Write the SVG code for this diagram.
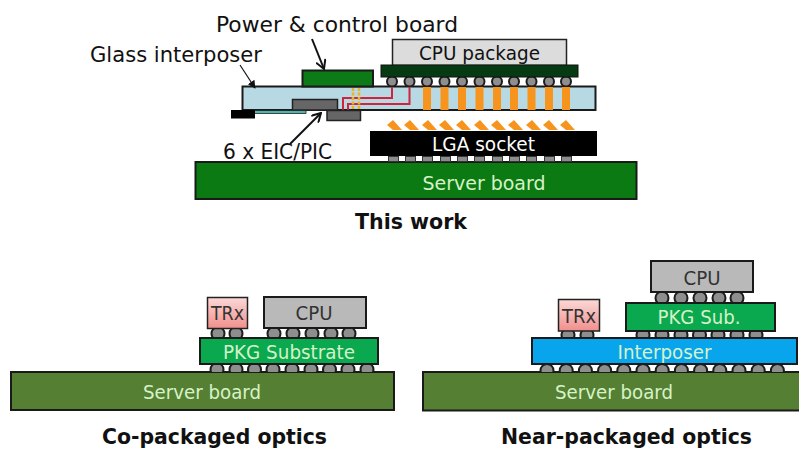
<svg xmlns="http://www.w3.org/2000/svg" width="799" height="449" viewBox="0 0 799 449">
<defs>
<linearGradient id="trx" x1="0" y1="0" x2="0" y2="1"><stop offset="0" stop-color="#fbd9d7"/><stop offset="1" stop-color="#f08f8c"/></linearGradient>
<marker id="arr" viewBox="0 0 10 10" refX="9" refY="5" markerWidth="11" markerHeight="11" markerUnits="userSpaceOnUse" orient="auto"><path d="M1 0.5L9 5L1 9.500" fill="none" stroke="#111" stroke-width="1.800"/></marker>
<marker id="arrs" viewBox="0 0 10 10" refX="9" refY="5" markerWidth="8" markerHeight="8" markerUnits="userSpaceOnUse" orient="auto"><path d="M0 0L10 5L0 10Z" fill="#111"/></marker>
<clipPath id="c1"><rect x="380" y="77" width="200" height="10"/></clipPath>
<clipPath id="c2"><rect x="205" y="328" width="170" height="10"/></clipPath>
<clipPath id="c3"><rect x="205" y="364" width="170" height="8"/></clipPath>
<clipPath id="c4"><rect x="555" y="292" width="210" height="11"/></clipPath>
<clipPath id="c5"><rect x="555" y="331" width="210" height="7"/></clipPath>
<clipPath id="c6"><rect x="535" y="364" width="255" height="8"/></clipPath>
</defs>
<style>
text{font-family:"DejaVu Sans","Liberation Sans",sans-serif}
.k{stroke:#1a1a1a;stroke-width:2}
.b{fill:#8e8e8e;stroke:#1c1c1c;stroke-width:2}
.t{font-size:22px;fill:#111}
.h{font-size:21px;font-weight:bold;fill:#111}
.l{font-size:20px;fill:#d6f2c8;text-anchor:middle}
.g{font-size:20px;fill:#333;text-anchor:middle}
.o{fill:#f7941d}
.r{fill:none;stroke:#d2233c;stroke-width:2}
</style>
<rect width="799" height="449" fill="#fff"/>

<g id="top-server-board"><rect class="k" x="195.500" y="162" width="441" height="37" fill="#0b7a12"/><text class="l" x="484" y="190" textLength="123" lengthAdjust="spacingAndGlyphs">Server board</text></g>
<g id="top-lga-pads" fill="#8c8c8c" stroke="#333" stroke-width="1"><rect x="388.500" y="156.500" width="10" height="5"/><rect x="405.500" y="156.500" width="10" height="5"/><rect x="422.500" y="156.500" width="10" height="5"/><rect x="440.500" y="156.500" width="10" height="5"/><rect x="457.500" y="156.500" width="10" height="5"/><rect x="474.500" y="156.500" width="10" height="5"/><rect x="492.500" y="156.500" width="10" height="5"/><rect x="509.500" y="156.500" width="10" height="5"/><rect x="526.500" y="156.500" width="10" height="5"/><rect x="544.500" y="156.500" width="10" height="5"/><rect x="561.500" y="156.500" width="10" height="5"/></g>
<g id="lga-socket"><rect x="370" y="131" width="227" height="25" fill="#000"/><text x="483.500" y="151" font-size="20" fill="#fff" text-anchor="middle" textLength="103" lengthAdjust="spacingAndGlyphs">LGA socket</text></g>
<g id="lga-contacts" class="o"><path d="M387 125L393 120L402 130H393Z"/><path d="M404 125L410 120L419 130H410Z"/><path d="M422 125L428 120L437 130H428Z"/><path d="M439 125L445 120L454 130H445Z"/><path d="M456 125L462 120L471 130H462Z"/><path d="M474 125L480 120L489 130H480Z"/><path d="M491 125L497 120L506 130H497Z"/><path d="M508 125L514 120L523 130H514Z"/><path d="M526 125L532 120L541 130H532Z"/><path d="M543 125L549 120L558 130H549Z"/><path d="M560 125L566 120L575 130H566Z"/></g>

<g id="glass-interposer"><rect class="k" x="242.500" y="86.500" width="353" height="23.500" fill="#b7d9e4"/></g>
<g id="via-bars" class="o"><rect x="423" y="87" width="8" height="23"/><rect x="440.500" y="87" width="8" height="23"/><rect x="458" y="87" width="8" height="23"/><rect x="475.500" y="87" width="8" height="23"/><rect x="493" y="87" width="8" height="23"/><rect x="510" y="87" width="8" height="23"/><rect x="527.500" y="87" width="8" height="23"/><rect x="545" y="87" width="8" height="23"/><rect x="562" y="87" width="8" height="23"/></g>
<g id="power-board"><rect class="k" x="302.500" y="70.500" width="70.500" height="16" fill="#0c7a16"/></g>
<g id="cpu-balls" clip-path="url(#c1)"><circle class="b" cx="392" cy="81.500" r="5"/><circle class="b" cx="409.500" cy="81.500" r="5"/><circle class="b" cx="427" cy="81.500" r="5"/><circle class="b" cx="444.500" cy="81.500" r="5"/><circle class="b" cx="462" cy="81.500" r="5"/><circle class="b" cx="479.500" cy="81.500" r="5"/><circle class="b" cx="497" cy="81.500" r="5"/><circle class="b" cx="514" cy="81.500" r="5"/><circle class="b" cx="531.500" cy="81.500" r="5"/><circle class="b" cx="549" cy="81.500" r="5"/><circle class="b" cx="566" cy="81.500" r="5"/></g>
<g id="cpu-package"><rect x="392.500" y="39.500" width="174" height="26" fill="#dcdcdc" stroke="#222" stroke-width="1.500"/><text x="479.500" y="60" font-size="20" fill="#111" text-anchor="middle" textLength="121" lengthAdjust="spacingAndGlyphs">CPU package</text></g>
<g id="cpu-substrate"><rect x="381" y="65" width="197" height="12" fill="#063a12" stroke="#111" stroke-width="1"/></g>
<g id="optical-wiring">
<path class="r" d="M392 87V98H343V110"/><path class="r" d="M409.500 87V104H348V110"/>
<path d="M353 88V110M359 88V110" fill="none" stroke="#eeb21e" stroke-width="2.500" stroke-dasharray="3 1.500"/>
</g>
<g id="eic-chip"><rect x="292.500" y="99.500" width="45" height="10.500" fill="#666" stroke="#222" stroke-width="1.500"/></g>
<g id="pic-chip"><rect x="327" y="110.500" width="33.500" height="10" fill="#666" stroke="#222" stroke-width="1.500"/></g>
<g id="waveguide"><rect x="254" y="110.500" width="52" height="3" fill="#4fb3b0" stroke="#222" stroke-width="0.800"/></g>
<g id="fiber-block"><rect x="231" y="110" width="24" height="8.500" fill="#000"/></g>

<g id="connectors" fill="none" stroke="#111" stroke-width="2">
<path d="M312 39L324 69" marker-end="url(#arr)"/>
<path d="M240 65L255 88" marker-end="url(#arrs)" stroke-width="1.200"/>
<path d="M290 144L321 113" marker-end="url(#arr)"/>
</g>
<g id="top-labels">
<text class="t" x="216" y="31.500" textLength="242" lengthAdjust="spacingAndGlyphs">Power &amp; control board</text>
<text class="t" x="90" y="62" textLength="172" lengthAdjust="spacingAndGlyphs">Glass interposer</text>
<text class="t" x="223" y="159" textLength="109" lengthAdjust="spacingAndGlyphs">6 x EIC/PIC</text>
<text class="h" x="355" y="229" textLength="112" lengthAdjust="spacingAndGlyphs">This work</text>
</g>

<g id="cpo-server-board"><rect class="k" x="11" y="372" width="383" height="38" fill="#557f32"/><text class="l" x="202" y="399" textLength="118" lengthAdjust="spacingAndGlyphs">Server board</text></g>
<g id="cpo-lower-balls" clip-path="url(#c3)"><circle class="b" cx="217" cy="369.500" r="6.500"/><circle class="b" cx="236" cy="369.500" r="6.500"/><circle class="b" cx="254.500" cy="369.500" r="6.500"/><circle class="b" cx="273" cy="369.500" r="6.500"/><circle class="b" cx="292" cy="369.500" r="6.500"/><circle class="b" cx="311" cy="369.500" r="6.500"/><circle class="b" cx="329.500" cy="369.500" r="6.500"/><circle class="b" cx="348" cy="369.500" r="6.500"/><circle class="b" cx="367" cy="369.500" r="6.500"/></g>
<g id="cpo-upper-balls" clip-path="url(#c2)"><circle class="b" cx="218" cy="333.500" r="6.500"/><circle class="b" cx="236" cy="333.500" r="6.500"/><circle class="b" cx="274" cy="333.500" r="6.500"/><circle class="b" cx="293" cy="333.500" r="6.500"/><circle class="b" cx="312" cy="333.500" r="6.500"/><circle class="b" cx="331" cy="333.500" r="6.500"/><circle class="b" cx="349" cy="333.500" r="6.500"/></g>
<g id="cpo-substrate"><rect class="k" x="200" y="338" width="178" height="26" fill="#0aa84f"/><text class="l" x="289" y="359" textLength="132" lengthAdjust="spacingAndGlyphs">PKG Substrate</text></g>
<g id="cpo-trx"><rect x="207.500" y="297.500" width="40" height="31" fill="url(#trx)" stroke="#222" stroke-width="1.500"/><text class="g" x="227.500" y="320" textLength="33" lengthAdjust="spacingAndGlyphs">TRx</text></g>
<g id="cpo-cpu"><rect class="k" x="264" y="297" width="102" height="31" fill="#b9b9b9"/><text class="g" x="314" y="320" textLength="37" lengthAdjust="spacingAndGlyphs">CPU</text></g>
<text id="cpo-title" class="h" x="102" y="444" textLength="225" lengthAdjust="spacingAndGlyphs">Co-packaged optics</text>

<g id="npo-server-board"><rect class="k" x="423" y="372" width="377" height="38.500" fill="#557f32"/><text class="l" x="614" y="399" textLength="118" lengthAdjust="spacingAndGlyphs">Server board</text></g>
<g id="npo-lower-balls" clip-path="url(#c6)"><circle class="b" cx="547" cy="370.500" r="6.500"/><circle class="b" cx="566.200" cy="370.500" r="6.500"/><circle class="b" cx="585.400" cy="370.500" r="6.500"/><circle class="b" cx="604.600" cy="370.500" r="6.500"/><circle class="b" cx="623.800" cy="370.500" r="6.500"/><circle class="b" cx="643" cy="370.500" r="6.500"/><circle class="b" cx="662.200" cy="370.500" r="6.500"/><circle class="b" cx="681.400" cy="370.500" r="6.500"/><circle class="b" cx="700.600" cy="370.500" r="6.500"/><circle class="b" cx="719.800" cy="370.500" r="6.500"/><circle class="b" cx="739" cy="370.500" r="6.500"/><circle class="b" cx="758.200" cy="370.500" r="6.500"/><circle class="b" cx="777.400" cy="370.500" r="6.500"/></g>
<g id="npo-mid-balls" clip-path="url(#c5)"><circle class="b" cx="568" cy="335" r="6.500"/><circle class="b" cx="587" cy="335" r="6.500"/><circle class="b" cx="643" cy="335" r="6.500"/><circle class="b" cx="662" cy="335" r="6.500"/><circle class="b" cx="681" cy="335" r="6.500"/><circle class="b" cx="699.500" cy="335" r="6.500"/><circle class="b" cx="718" cy="335" r="6.500"/><circle class="b" cx="737" cy="335" r="6.500"/><circle class="b" cx="756" cy="335" r="6.500"/></g>
<g id="npo-upper-balls" clip-path="url(#c4)"><circle class="b" cx="662" cy="298" r="6.500"/><circle class="b" cx="681" cy="298" r="6.500"/><circle class="b" cx="700" cy="298" r="6.500"/><circle class="b" cx="719" cy="298" r="6.500"/><circle class="b" cx="737" cy="298" r="6.500"/></g>
<g id="npo-interposer"><rect class="k" x="532" y="338" width="265" height="26" fill="#08a5ec"/><text class="l" x="664.500" y="359" textLength="94" lengthAdjust="spacingAndGlyphs">Interposer</text></g>
<g id="npo-pkg-sub"><rect class="k" x="626" y="303" width="149" height="28" fill="#0aa84f"/><text class="l" x="699" y="324" textLength="83" lengthAdjust="spacingAndGlyphs">PKG Sub.</text></g>
<g id="npo-trx"><rect x="558.500" y="299.500" width="41" height="31.500" fill="url(#trx)" stroke="#222" stroke-width="1.500"/><text class="g" x="579" y="323" textLength="34" lengthAdjust="spacingAndGlyphs">TRx</text></g>
<g id="npo-cpu"><rect class="k" x="651" y="261" width="102" height="31" fill="#b9b9b9"/><text class="g" x="702" y="285" textLength="37" lengthAdjust="spacingAndGlyphs">CPU</text></g>
<text id="npo-title" class="h" x="501" y="444" textLength="251" lengthAdjust="spacingAndGlyphs">Near-packaged optics</text>
</svg>
